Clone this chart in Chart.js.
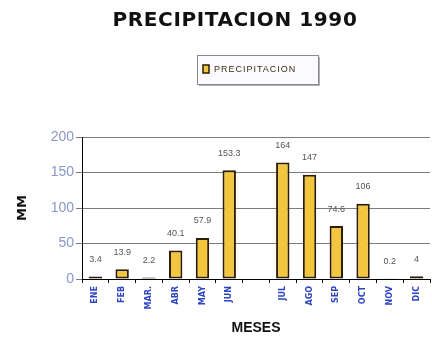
<!DOCTYPE html>
<html>
<head>
<meta charset="utf-8">
<script src="https://cdn.jsdelivr.net/npm/chart.js@4.4.0/dist/chart.umd.min.js"></script>
<style>
  html, body { margin: 0; padding: 0; background: #fff; }
  #wrap { width: 432px; height: 341px; }
</style>
</head>
<body>
<div id="wrap"><canvas id="lluvia"></canvas></div>
<script>
// meses (the empty slot is the gap between JUN and JUL)
const meses = ["ENE", "FEB", "MAR.", "ABR", "MAY", "JUN", "", "JUL", "AGO", "SEP", "OCT", "NOV", "DIC"];
const precipitacion = [3.4, 13.9, 2.2, 40.1, 57.9, 153.3, null, 164, 147, 74.6, 106, 0.2, 4];
const yTicks = [0, 50, 100, 150, 200];

const titulo = "PRECIPITACION 1990";
const barFill = "#f4c63d";
const barLine = "#2a1e0a";

// value printed above each bar
const valueLabels = {
  id: "valueLabels",
  afterDatasetsDraw(chart) {
    const ctx = chart.ctx;
    const meta = chart.getDatasetMeta(0);
    ctx.save();
    ctx.font = "9px 'Liberation Sans', Arial";
    ctx.fillStyle = "#555";
    ctx.textAlign = "center";
    ctx.textBaseline = "middle";
    meta.data.forEach((bar, i) => {
      const v = precipitacion[i];
      if (v === null) return;
      ctx.fillText(String(v), bar.x, bar.y - 17);
    });
    ctx.restore();
  }
};

// heading and boxed legend
const header = {
  id: "header",
  afterDraw(chart) {
    const ctx = chart.ctx;
    ctx.save();
    ctx.font = "bold 20px 'DejaVu Sans'";
    ctx.fillStyle = "#111";
    ctx.textAlign = "center";
    ctx.textBaseline = "middle";
    ctx.letterSpacing = "0.6px";
    ctx.fillText(titulo, 235, 21);
    ctx.restore();

    const x = 197, y = 55, w = 121, h = 29;
    ctx.save();
    ctx.fillStyle = "#b0b0b0";
    ctx.fillRect(x + 2, y + 2, w, h);
    ctx.fillStyle = "#fbfaff";
    ctx.fillRect(x, y, w, h);
    ctx.strokeStyle = "#8a8a8a";
    ctx.lineWidth = 1;
    ctx.strokeRect(x + 0.5, y + 0.5, w, h);
    ctx.fillStyle = barFill;
    ctx.fillRect(x + 6, y + 10, 6, 8);
    ctx.strokeStyle = barLine;
    ctx.lineWidth = 1.5;
    ctx.strokeRect(x + 6, y + 10, 6, 8);
    ctx.font = "9px 'Liberation Sans', Arial";
    ctx.fillStyle = "#3a3010";
    ctx.textBaseline = "middle";
    ctx.letterSpacing = "1px";
    ctx.fillText(chart.data.datasets[0].label, x + 17, y + 14.5);
    ctx.restore();
  }
};

const data = {
  labels: meses,
  datasets: [{
    label: "PRECIPITACION",
    data: precipitacion,
    backgroundColor: barFill,
    borderColor: barLine,
    borderWidth: 2,
    borderSkipped: false,
    barPercentage: 0.5,
    categoryPercentage: 1.0
  }]
};

const config = {
  type: "bar",
  data: data,
  options: {
    responsive: true,
    maintainAspectRatio: false,
    animation: false,
    layout: { padding: { left: 0, right: 2, top: 137, bottom: 0 } },
    plugins: {
      legend: { display: false },
      tooltip: { enabled: false },
      title: { display: false }
    },
    scales: {
      x: {
        afterFit(scale) { scale.height = 62; },
        grid: {
          drawOnChartArea: false,
          color: "#000",
          tickLength: 4,
          offset: true
        },
        border: { color: "#000", width: 1 },
        ticks: {
          color: "#2f45c0",
          font: { family: "'DejaVu Sans'", size: 8, weight: "bold" },
          minRotation: 90,
          maxRotation: 90,
          autoSkip: false,
          padding: 3
        },
        title: {
          display: true,
          text: "MESES",
          color: "#111",
          font: { family: "'Liberation Sans', Arial", size: 14, weight: "bold" },
          padding: { top: 0, bottom: 4 }
        }
      },
      y: {
        min: 0,
        max: 200,
        afterFit(scale) { scale.width = 82; },
        afterBuildTicks(scale) { scale.ticks = yTicks.map(v => ({ value: v })); },
        grid: {
          color: "#7c7c7c",
          lineWidth: 1,
          tickLength: 6
        },
        border: { color: "#000", width: 1 },
        ticks: {
          color: "#8a98c6",
          font: { family: "'Liberation Sans', Arial", size: 14 },
          padding: 2
        },
        title: {
          display: true,
          text: "MM",
          color: "#111",
          font: { family: "'DejaVu Sans'", size: 13, weight: "bold" },
          padding: { top: 15, bottom: 0 }
        }
      }
    }
  },
  plugins: [valueLabels, header]
};

const ctx = document.getElementById("lluvia");
new Chart(ctx, config);
</script>
</body>
</html>
